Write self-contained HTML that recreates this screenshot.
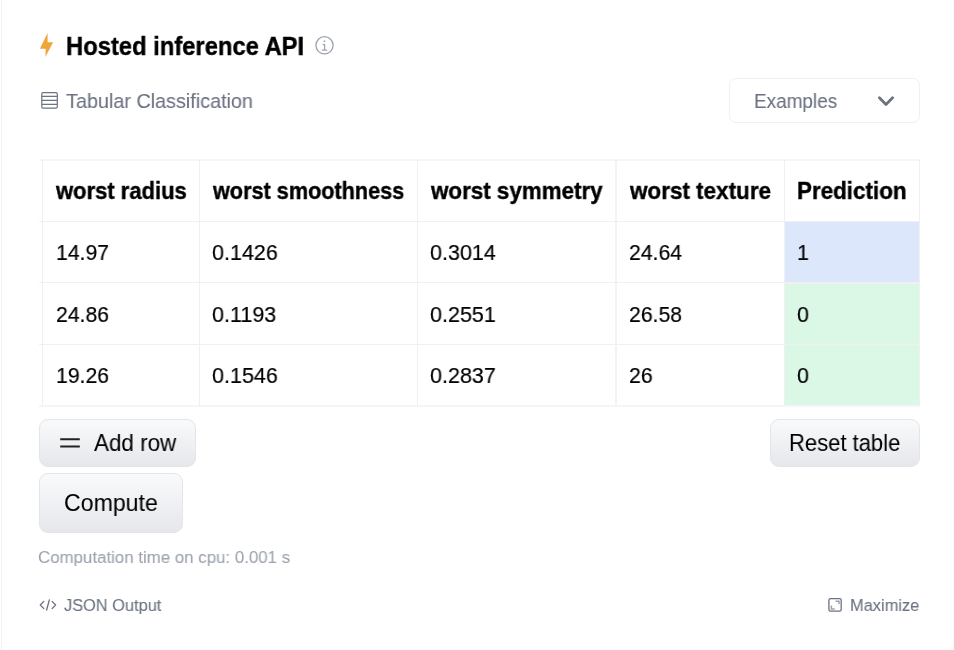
<!DOCTYPE html>
<html><head><meta charset="utf-8"><title>Hosted inference API</title>
<style>
html,body{margin:0;padding:0;background:#fff;width:954px;height:650px;overflow:hidden;}
body{position:relative;font-family:"Liberation Sans",sans-serif;}
.t{position:absolute;white-space:nowrap;line-height:1;transform-origin:0 0;will-change:transform;}
.hl{position:absolute;height:1px;background:#eff0f3;}
.vl{position:absolute;width:1px;background:#eff0f3;}
.btn{position:absolute;box-sizing:border-box;border:1px solid #e3e5e9;background:linear-gradient(#f9fafb,#e6e7eb);}
.cell{position:absolute;}
</style></head><body>

<div style="position:absolute;left:1px;top:0;width:1px;height:650px;background:#f0f2f5"></div>
<svg style="position:absolute;left:0;top:0" width="954" height="650" viewBox="0 0 954 650"><polygon points="47.6,33 39.9,48.7 45.7,48.7 45.4,57.1 53.1,42.2 47.6,42.2" fill="#eea53c"/><circle cx="324.5" cy="45.3" r="8.6" fill="none" stroke="#9ca3af" stroke-width="1.3"/><circle cx="324.5" cy="41.2" r="0.9" fill="#9ca3af"/><path d="M322.6 44.6 H324.6 V50 M321.9 50.1 H327.1" fill="none" stroke="#9ca3af" stroke-width="1.2"/><rect x="41.8" y="92.6" width="15.5" height="15.5" rx="1.3" fill="none" stroke="#6b7280" stroke-width="1.2"/><path d="M41.8 96.4 H57.3 M41.8 100.4 H57.3 M41.8 104.4 H57.3" stroke="#6b7280" stroke-width="1.1"/><path d="M879.4 97.8 L886 104.4 L892.6 97.8" fill="none" stroke="#6b7280" stroke-width="2.8" stroke-linecap="round" stroke-linejoin="round"/></svg>
<div style="position:absolute;left:728.5px;top:78px;width:191px;height:44.5px;box-sizing:border-box;border:1px solid #eef0f3;border-radius:7px"></div>
<div class="cell" style="left:784px;top:221px;width:135px;height:62px;background:#dce7fb"></div>
<div class="cell" style="left:784px;top:283px;width:135px;height:123px;background:#dbf7e5"></div>
<div class="hl" style="left:39px;top:159px;width:881px;height:2px;background:#f4f5f7"></div>
<div class="hl" style="left:39px;top:221px;width:881px;height:1px;background:#eff0f3"></div>
<div class="hl" style="left:39px;top:282px;width:881px;height:1px;background:#eff0f3"></div>
<div class="hl" style="left:39px;top:344px;width:881px;height:1px;background:#eff0f3"></div>
<div class="hl" style="left:39px;top:405px;width:881px;height:2px;background:#f4f5f7"></div>
<div class="hl" style="left:785px;top:282px;width:134px;height:2px;background:#eef0f3"></div>
<div class="hl" style="left:785px;top:344px;width:134px;height:1px;background:#ecf2ef"></div>
<div class="vl" style="left:42px;top:160px;height:246px"></div>
<div class="vl" style="left:199px;top:160px;height:246px"></div>
<div class="vl" style="left:417px;top:160px;height:246px"></div>
<div class="vl" style="left:615px;top:160px;height:246px;width:2px;background:#f2f3f5"></div>
<div class="vl" style="left:784px;top:160px;height:246px"></div>
<div class="vl" style="left:919px;top:160px;height:246px"></div>
<div class="t" id="h1" style="left:66.00px;top:33.00px;font-size:26.60px;font-weight:bold;color:#000;-webkit-text-stroke:0.4px #000;transform:scaleX(0.8938)">Hosted inference API</div>
<div class="t" id="tab" style="left:66.00px;top:90.81px;font-size:20.30px;font-weight:normal;color:#6b7280;-webkit-text-stroke:0.1px #6b7280;transform:scaleX(0.9757)">Tabular Classification</div>
<div class="t" id="ex" style="left:753.90px;top:90.91px;font-size:20.30px;font-weight:normal;color:#6b7280;-webkit-text-stroke:0.1px #6b7280;transform:scaleX(0.9338)">Examples</div>
<div class="t" id="th1" style="left:55.50px;top:179.00px;font-size:23.90px;font-weight:bold;color:#000;-webkit-text-stroke:0.4px #000;transform:scaleX(0.9201)">worst radius</div>
<div class="t" id="th2" style="left:213.10px;top:179.00px;font-size:23.90px;font-weight:bold;color:#000;-webkit-text-stroke:0.4px #000;transform:scaleX(0.9059)">worst smoothness</div>
<div class="t" id="th3" style="left:431.10px;top:179.00px;font-size:23.90px;font-weight:bold;color:#000;-webkit-text-stroke:0.4px #000;transform:scaleX(0.9363)">worst symmetry</div>
<div class="t" id="th4" style="left:629.80px;top:179.00px;font-size:23.90px;font-weight:bold;color:#000;-webkit-text-stroke:0.4px #000;transform:scaleX(0.9400)">worst texture</div>
<div class="t" id="th5" style="left:797.10px;top:179.00px;font-size:23.90px;font-weight:bold;color:#000;-webkit-text-stroke:0.4px #000;transform:scaleX(0.9374)">Prediction</div>
<div class="t" id="td00" style="left:55.50px;top:241.01px;font-size:22.80px;font-weight:normal;color:#000;-webkit-text-stroke:0.2px #000;transform:scaleX(0.9304)">14.97</div>
<div class="t" id="td01" style="left:212.00px;top:241.01px;font-size:22.80px;font-weight:normal;color:#000;-webkit-text-stroke:0.2px #000;transform:scaleX(0.9448)">0.1426</div>
<div class="t" id="td02" style="left:429.90px;top:241.01px;font-size:22.80px;font-weight:normal;color:#000;-webkit-text-stroke:0.2px #000;transform:scaleX(0.9449)">0.3014</div>
<div class="t" id="td03" style="left:628.60px;top:241.01px;font-size:22.80px;font-weight:normal;color:#000;-webkit-text-stroke:0.2px #000;transform:scaleX(0.9307)">24.64</div>
<div class="t" id="td04" style="left:797.00px;top:241.01px;font-size:22.80px;font-weight:normal;color:#000;-webkit-text-stroke:0.2px #000;transform:scaleX(0.9400)">1</div>
<div class="t" id="td10" style="left:55.50px;top:302.51px;font-size:22.80px;font-weight:normal;color:#000;-webkit-text-stroke:0.2px #000;transform:scaleX(0.9304)">24.86</div>
<div class="t" id="td11" style="left:212.00px;top:302.51px;font-size:22.80px;font-weight:normal;color:#000;-webkit-text-stroke:0.2px #000;transform:scaleX(0.9448)">0.1193</div>
<div class="t" id="td12" style="left:429.90px;top:302.51px;font-size:22.80px;font-weight:normal;color:#000;-webkit-text-stroke:0.2px #000;transform:scaleX(0.9449)">0.2551</div>
<div class="t" id="td13" style="left:628.60px;top:302.51px;font-size:22.80px;font-weight:normal;color:#000;-webkit-text-stroke:0.2px #000;transform:scaleX(0.9307)">26.58</div>
<div class="t" id="td14" style="left:797.00px;top:302.51px;font-size:22.80px;font-weight:normal;color:#000;-webkit-text-stroke:0.2px #000;transform:scaleX(0.9400)">0</div>
<div class="t" id="td20" style="left:55.50px;top:364.11px;font-size:22.80px;font-weight:normal;color:#000;-webkit-text-stroke:0.2px #000;transform:scaleX(0.9304)">19.26</div>
<div class="t" id="td21" style="left:212.00px;top:364.11px;font-size:22.80px;font-weight:normal;color:#000;-webkit-text-stroke:0.2px #000;transform:scaleX(0.9448)">0.1546</div>
<div class="t" id="td22" style="left:429.90px;top:364.11px;font-size:22.80px;font-weight:normal;color:#000;-webkit-text-stroke:0.2px #000;transform:scaleX(0.9449)">0.2837</div>
<div class="t" id="td23" style="left:628.60px;top:364.11px;font-size:22.80px;font-weight:normal;color:#000;-webkit-text-stroke:0.2px #000;transform:scaleX(0.9307)">26</div>
<div class="t" id="td24" style="left:797.00px;top:364.11px;font-size:22.80px;font-weight:normal;color:#000;-webkit-text-stroke:0.2px #000;transform:scaleX(0.9400)">0</div>
<div class="btn" style="left:39px;top:419px;width:157px;height:48px;border-radius:9px"></div>
<div class="btn" style="left:770px;top:419px;width:150px;height:48px;border-radius:9px"></div>
<div class="btn" style="left:39px;top:473px;width:144px;height:60px;border-radius:9px"></div>
<svg style="position:absolute;left:0;top:0" width="954" height="650" viewBox="0 0 954 650"><path d="M60.2 439.2 H79.8 M60.2 446.4 H79.8" stroke="#222" stroke-width="2"/><path d="M43.8 601.4 L40.3 605 L43.8 608.6 M52.1 601.4 L55.6 605 L52.1 608.6 M49.3 599.9 L46.6 610" fill="none" stroke="#6b7280" stroke-width="1.3" stroke-linecap="round" stroke-linejoin="round"/><rect x="828.9" y="598.6" width="12.3" height="12.5" rx="1.6" fill="none" stroke="#6b7280" stroke-width="1.3"/><path d="M835.6 601.2 H839 V604.3 M831.4 605.6 V609 H834.8" fill="none" stroke="#9ca3af" stroke-width="1.5"/></svg>
<div class="t" id="add" style="left:94.00px;top:431.81px;font-size:23.20px;font-weight:normal;color:#000;-webkit-text-stroke:0.05px #000;transform:scaleX(0.9671)">Add row</div>
<div class="t" id="reset" style="left:789.20px;top:431.81px;font-size:23.20px;font-weight:normal;color:#000;-webkit-text-stroke:0.05px #000;transform:scaleX(0.9486)">Reset table</div>
<div class="t" id="comp" style="left:63.70px;top:491.81px;font-size:23.20px;font-weight:normal;color:#000;-webkit-text-stroke:0.05px #000;transform:scaleX(0.9966)">Compute</div>
<div class="t" id="ct" style="left:38.10px;top:548.80px;font-size:17.20px;font-weight:normal;color:#9ca3af;-webkit-text-stroke:0.1px #9ca3af;transform:scaleX(0.9809)">Computation time on cpu: 0.001 s</div>
<div class="t" id="json" style="left:63.50px;top:596.70px;font-size:17.00px;font-weight:normal;color:#6b7280;-webkit-text-stroke:0.1px #6b7280;transform:scaleX(0.9631)">JSON Output</div>
<div class="t" id="max" style="left:849.90px;top:596.70px;font-size:17.00px;font-weight:normal;color:#6b7280;-webkit-text-stroke:0.1px #6b7280;transform:scaleX(0.9659)">Maximize</div>
</body></html>
